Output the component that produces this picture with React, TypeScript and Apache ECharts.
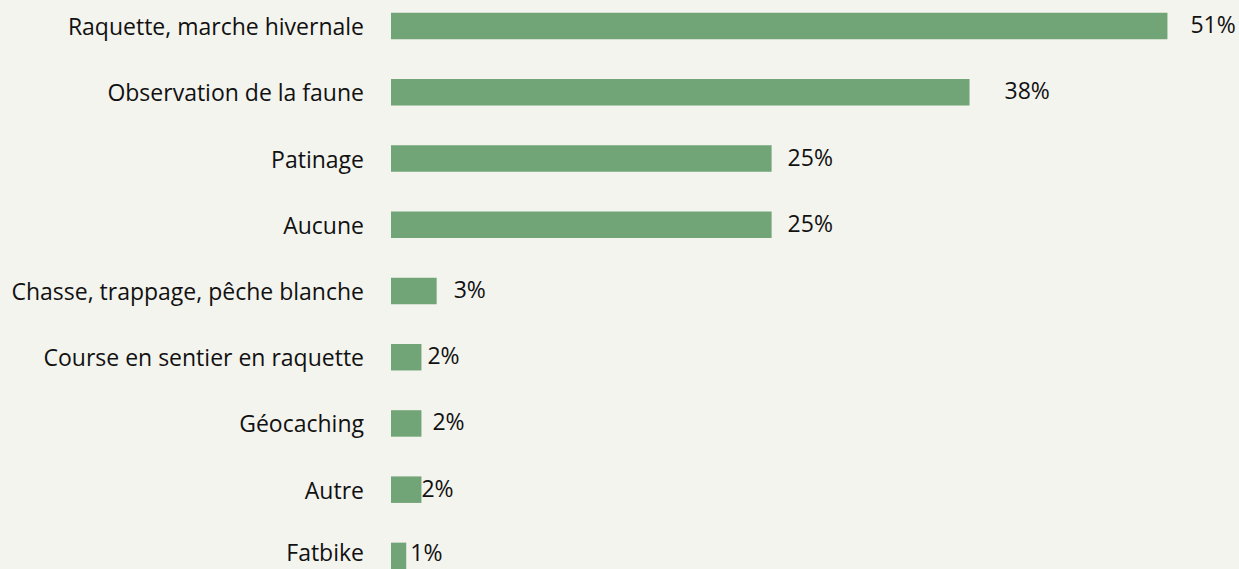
import React, { useEffect, useRef } from "react";
import * as echarts from "echarts";

const categories = [
  "Raquette, marche hivernale",
  "Observation de la faune",
  "Patinage",
  "Aucune",
  "Chasse, trappage, pêche blanche",
  "Course en sentier en raquette",
  "Géocaching",
  "Autre",
  "Fatbike",
];
const values = [51, 38, 25, 25, 3, 2, 2, 2, 1];
const valueLabels = ["51%", "38%", "25%", "25%", "3%", "2%", "2%", "2%", "1%"];
const labelGaps = [23, 35, 16, 16, 17, 6, 11, 0, 4];

export default function App() {
  const ref = useRef<HTMLDivElement>(null);
  useEffect(() => {
    document.body.style.margin = "0";
    const chart = echarts.init(ref.current!, null, { renderer: "svg" });
    const last = categories.length - 1;
    chart.setOption({
      animation: false,
      backgroundColor: "#F4F4EF",
      textStyle: { fontFamily: "Open Sans" },
      grid: { left: 391, right: 0, top: 0, bottom: 0, containLabel: false },
      xAxis: {
        type: "value",
        min: 0,
        max: 55.7,
        show: false,
      },
      yAxis: {
        type: "category",
        data: categories,
        inverse: true,
        axisLine: { show: false },
        axisTick: { show: false },
        splitLine: { show: false },
        axisLabel: {
          color: "#111",
          fontSize: 23,
          margin: 27,
          fontFamily: "Open Sans",
          formatter: (v: string, i: number) => (i === last ? `{up|${v}}` : v),
          rich: {
            up: {
              color: "#111",
              fontSize: 23,
              fontFamily: "Open Sans",
              padding: [0, 0, 8, 0],
            },
          },
        },
      },
      series: [
        {
          type: "bar",
          data: values.map((v, i) => ({
            value: v,
            label: { distance: labelGaps[i], offset: [0, i === last ? -4 : -2] },
          })),
          barCategoryGap: "60%",
          itemStyle: { color: "#71A476" },
          label: {
            show: true,
            position: "right",
            color: "#111",
            fontSize: 23,
            fontFamily: "Open Sans",
            formatter: (p: any) => valueLabels[p.dataIndex],
          },
        },
      ],
    });
    return () => chart.dispose();
  }, []);
  return (
    <div style={{ width: 1239, height: 569, overflow: "hidden", position: "relative", background: "#F4F4EF" }}>
      <div ref={ref} style={{ position: "absolute", left: 0, top: -7, width: 1239, height: 596 }} />
    </div>
  );
}
